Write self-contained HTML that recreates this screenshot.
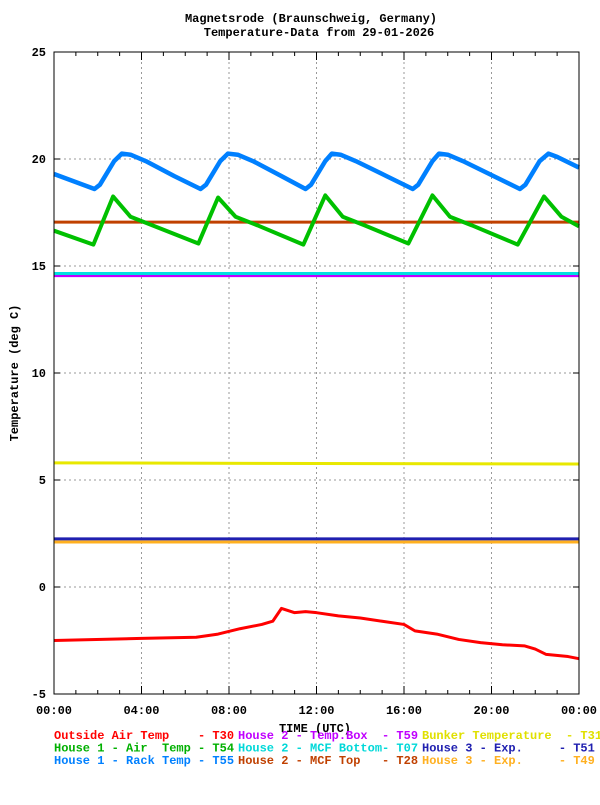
<!DOCTYPE html>
<html><head><meta charset="utf-8"><style>
body{margin:0;background:#fff;}
svg text{font-family:"Liberation Mono",monospace;font-weight:bold;font-size:12px;}
</style></head><body>
<svg id="chart" width="600" height="800" xmlns="http://www.w3.org/2000/svg">
<text x="311" y="22" text-anchor="middle">Magnetsrode (Braunschweig, Germany)</text>
<text x="319" y="36" text-anchor="middle">Temperature-Data from 29-01-2026</text>
<text transform="translate(18,373) rotate(-90)" text-anchor="middle">Temperature (deg C)</text>
<text x="315" y="732" text-anchor="middle">TIME (UTC)</text>
<g id="grid"></g><g id="series"></g><g id="axes"></g><g id="legend"></g>
</svg>
<script>
const yTicks=[-5,0,5,10,15,20,25];
const xTickLabels=["00:00","04:00","08:00","12:00","16:00","20:00","00:00"];
const rackT=[0,1.85,2.1,2.75,3.1,3.5,4.2,5.5,6.7,6.95,7.6,7.95,8.4,9.1,10.4,11.5,11.75,12.4,12.7,13.1,13.8,15.2,16.4,16.65,17.3,17.6,18.0,18.7,20.1,21.3,21.55,22.2,22.6,23.0,24];
const rackV=[19.3,18.6,18.8,19.9,20.25,20.2,19.9,19.2,18.6,18.8,19.9,20.25,20.2,19.9,19.2,18.6,18.8,19.9,20.25,20.2,19.9,19.2,18.6,18.8,19.9,20.25,20.2,19.9,19.2,18.6,18.8,19.9,20.25,20.1,19.6];
const airT=[0,1.8,2.7,3.5,4.5,6.6,7.5,8.3,9.3,11.4,12.4,13.2,14.2,16.2,17.3,18.1,19.1,21.2,22.4,23.2,24];
const airV=[16.65,16.0,18.25,17.3,16.9,16.05,18.2,17.3,16.9,16.0,18.3,17.3,16.9,16.05,18.3,17.3,16.9,16.0,18.25,17.3,16.85];
const outT=[0,4,6.5,7.5,8.5,9.5,10,10.4,11,11.5,12,13,14,15,16,16.5,17.5,18.5,19.5,20.5,21.5,22,22.5,23.5,24];
const outV=[-2.5,-2.4,-2.35,-2.2,-1.95,-1.75,-1.6,-1.0,-1.2,-1.15,-1.2,-1.35,-1.45,-1.6,-1.75,-2.05,-2.2,-2.45,-2.6,-2.7,-2.75,-2.9,-3.15,-3.25,-3.35];
const flatT=[0,12,24];
const mcfTopV=[17.05,17.05,17.05];
const mcfBotV=[14.65,14.65,14.65];
const boxV=[14.55,14.55,14.55];
const bunkerV=[5.8,5.77,5.75];
const h3aV=[2.25,2.25,2.25];
const h3bV=[2.1,2.1,2.1];
const X0=54,X1=579,Y0=694,Y1=52;
const xs=h=>X0+(h/24)*(X1-X0);
const ys=v=>Y0-(v+5)/30*(Y0-Y1);
const NS="http://www.w3.org/2000/svg";
function mk(t,p,a){const e=document.createElementNS(NS,t);for(const k in a)e.setAttribute(k,a[k]);p.appendChild(e);return e;}
const grid=document.getElementById('grid'),axes=document.getElementById('axes'),ser=document.getElementById('series'),leg=document.getElementById('legend');
yTicks.forEach(v=>{const y=ys(v);
 if(v>-5&&v<25){const g=mk('line',grid,{x1:X0,x2:X1,y1:y,y2:y,stroke:'#999','stroke-dasharray':'2,3'});
 
 }
 const t=mk('text',axes,{x:46,y:y+4,'text-anchor':'end'});t.textContent=v;
 
 
 mk('line',axes,{x1:X0,x2:X0+6,y1:y,y2:y,stroke:'#000'});mk('line',axes,{x1:X1-6,x2:X1,y1:y,y2:y,stroke:'#000'});
});
xTickLabels.forEach((l,i)=>{const x=xs(i*4);
 if(i>0&&i<6){const g=mk('line',grid,{x1:x,x2:x,y1:Y1,y2:Y0,stroke:'#999','stroke-dasharray':'2,3'});
 
 }
 const t=mk('text',axes,{x:x,y:714,'text-anchor':'middle'});t.textContent=l;
 
 
});
for(let h=0;h<=24;h++){const x=xs(h),len=h%4?4:8;mk('line',axes,{x1:x,x2:x,y1:Y0,y2:Y0-len,stroke:'#000'});mk('line',axes,{x1:x,x2:x,y1:Y1,y2:Y1+len,stroke:'#000'});}
const fr=mk('rect',axes,{x:X0,y:Y1,width:X1-X0,height:Y0-Y1,fill:'none',stroke:'#000'});


function line(T,V,c,w,n){const p=mk('polyline',ser,{points:T.map((t,i)=>xs(t)+','+ys(V[i])).join(' '),fill:'none',stroke:c,'stroke-width':w,'stroke-linejoin':'round'});
 
 }
line(flatT,h3bV,'#ffb020',3,'series-t49');
line(flatT,h3aV,'#2020b0',3,'series-t51');
line(flatT,bunkerV,'#e8e800',3,'series-t31');
line(flatT,boxV,'#c000ff',3,'series-t59');
line(flatT,mcfBotV,'#00e0e0',3,'series-t07');
line(flatT,mcfTopV,'#c04000',3,'series-t28');
line(airT,airV,'#00c000',4,'series-t54');
line(rackT,rackV,'#0080ff',4.5,'series-t55');
line(outT,outV,'#ff0000',3,'series-t30');
const legendRows=[
["Outside Air Temp    - T30","#ff0000"],["House 2 - Temp.Box  - T59","#c000ff"],["Bunker Temperature  - T31","#e0e000"],
["House 1 - Air  Temp - T54","#00b000"],["House 2 - MCF Bottom- T07","#00d8d8"],["House 3 - Exp.     - T51","#2020b0"],
["House 1 - Rack Temp - T55","#0080ff"],["House 2 - MCF Top   - T28","#c04000"],["House 3 - Exp.     - T49","#ffb020"]];
legendRows.forEach((r,i)=>{const t=mk('text',leg,{x:54+(i%3)*184,y:739+Math.floor(i/3)*12.5,fill:r[1],'xml:space':'preserve'});t.style.whiteSpace='pre';t.textContent=r[0];
 
 });
</script>
</body></html>
